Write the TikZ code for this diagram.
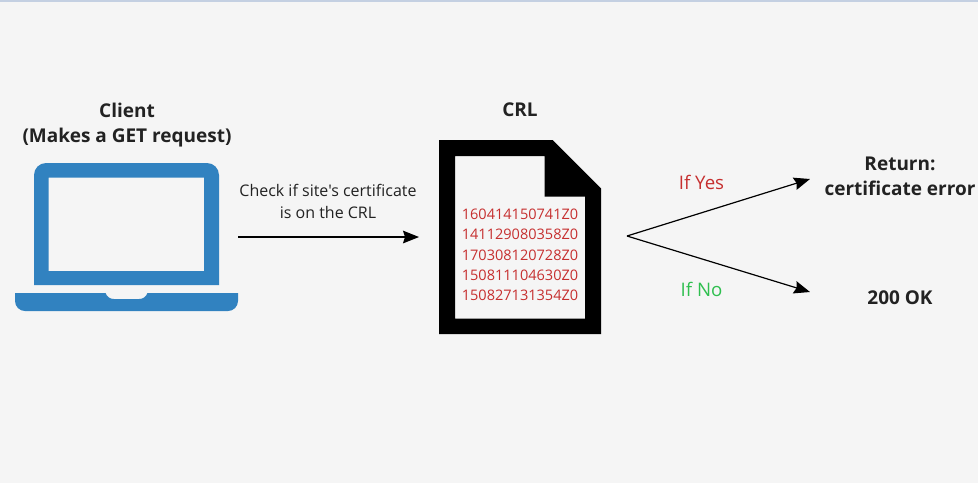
\documentclass[tikz,border=0pt]{standalone}
\usepackage{fontspec}
\setmainfont{Open Sans}
\newfontfamily\plainf{Open Sans}
\usetikzlibrary{arrows.meta}
\definecolor{bgc}{HTML}{F5F5F5}
\definecolor{stripc}{HTML}{C4D0E2}
\definecolor{laptopc}{HTML}{3182C0}
\definecolor{redc}{HTML}{C62F2F}
\definecolor{greenc}{HTML}{2FBF4F}
\definecolor{inkc}{HTML}{222222}
\tikzset{
  title/.style={font=\bfseries\fontsize{14.25}{19.2}\selectfont,text=inkc,align=center,inner sep=0pt},
  plain/.style={font=\plainf\fontsize{12}{17}\selectfont,text=inkc,align=center,inner sep=0pt},
  serial/.style={font=\fontsize{10.9}{15.2}\selectfont,text=redc,align=center,inner sep=0pt},
  branch/.style={font=\fontsize{14}{15}\selectfont,inner sep=0pt},
  arrow/.style={draw=black,line width=0.9pt,-{Stealth[length=12pt,width=9.5pt,inset=1.5pt]}}
}
\begin{document}
\begin{tikzpicture}[x=0.75pt,y=-0.75pt]
\useasboundingbox (0,0) rectangle (978,483);
\fill[bgc] (0,0) rectangle (978,483);
\fill[stripc] (0,0) rectangle (978,2);
% laptop
\fill[laptopc,even odd rule] (34,285) -- (34,175) arc[start angle=180,end angle=270,radius=12] -- (207,163) arc[start angle=270,end angle=360,radius=12] -- (219,285) -- cycle
  (48.5,177.5) rectangle (204,271);
\fill[laptopc] (15,293) -- (105.5,293) .. controls (107,297) and (110,299) .. (114,299) -- (139,299) .. controls (143,299) and (146,297) .. (147.5,293) -- (238,293) -- (238,301) arc[start angle=0,end angle=90,radius=10] -- (25,311) arc[start angle=90,end angle=180,radius=10] -- cycle;
% document
\fill[black,even odd rule] (439,140) -- (552.5,140) -- (601,188.5) -- (601,334) -- (439,334) -- cycle
  (455,156) -- (544.5,156) -- (544.5,196.5) -- (585,196.5) -- (585,318.5) -- (455,318.5) -- cycle;
% labels
\node[title] (client) at (127,125) {Client\\(Makes a GET request)};
\node[title] (crl) at (520,110) {CRL};
\node[title] (ret) at (900,176.5) {Return:\\certificate error};
\node[title] (ok) at (900,298) {200 OK};
\node[plain] (check) at (328,201.5) {Check if site's certificate\\is on the CRL};
\node[serial] (list) at (520,255) {160414150741Z0\\141129080358Z0\\170308120728Z0\\150811104630Z0\\150827131354Z0};
\node[branch,text=redc] (yes) at (701.5,182) {If Yes};
\node[branch,text=greenc] (no) at (701.5,289) {If No};
% connectors
\coordinate (from) at (238,237);
\coordinate (to) at (419,237);
\coordinate (fork) at (627,236);
\coordinate (yesend) at (810,179);
\coordinate (noend) at (810,292);
\draw[arrow] (from) -- (to);
\draw[arrow] (fork) -- (yesend);
\draw[arrow] (fork) -- (noend);
\end{tikzpicture}
\end{document}
